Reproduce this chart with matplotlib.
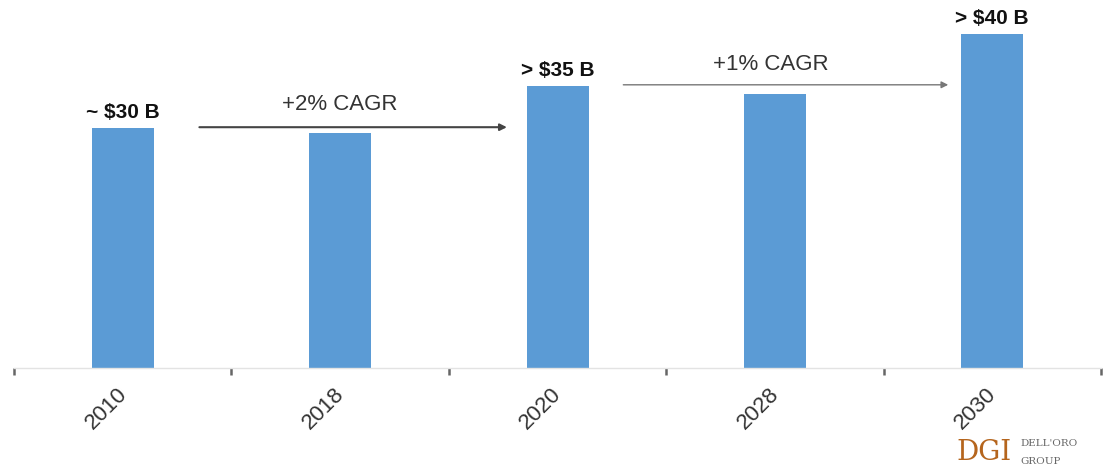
import matplotlib
matplotlib.use("Agg")
import matplotlib.pyplot as plt

plt.rcParams["font.family"] = ["Liberation Sans", "DejaVu Sans"]

years = ["2010", "2018", "2020", "2028", "2030"]
values = [30.0, 29.4, 35.3, 34.3, 41.8]
value_labels = ["~ $30 B", None, "> $35 B", None, "> $40 B"]
cagr_labels = ["+2% CAGR", "+1% CAGR"]

W, H = 1111, 469
fig = plt.figure(figsize=(W / 100, H / 100), dpi=100)
ax = fig.add_axes([14 / W, 101 / H, 1087 / W, 368 / H])
x = list(range(len(years)))
ax.bar(x, values, width=62 / 217.4, color="#5B9BD5", zorder=2)
ax.set_xlim(-0.5, len(years) - 0.5)
ax.set_ylim(0, 46)

for s in ["top", "right", "left"]:
    ax.spines[s].set_visible(False)
ax.spines["bottom"].set_color("#e3e3e3")
ax.spines["bottom"].set_linewidth(1.0)
ax.set_yticks([])
ax.set_xticks([i - 0.5 for i in range(len(years) + 1)], minor=False)
ax.set_xticklabels([])
ax.tick_params(axis="x", length=5, width=1.8, color="#666666", direction="out", pad=0)
for i, y in enumerate(years):
    ax.text(i - 0.03, -1.9, y, rotation=45, ha="right", va="top",
            rotation_mode="anchor", fontsize=16, color="#333333")

for i, (v, lab) in enumerate(zip(values, value_labels)):
    if lab:
        ax.text(i, v + 0.7, lab, ha="center", va="bottom", fontsize=15,
                fontweight="bold", color="#111111")

# CAGR arrows
ax.annotate("", xy=(1.78, 30.1), xytext=(0.34, 30.1),
            arrowprops=dict(arrowstyle="-|>", color="#444444", lw=1.5,
                            mutation_scale=10))
ax.text(1.0, 31.6, cagr_labels[0], ha="center", va="bottom", fontsize=16,
        color="#333333")
ax.annotate("", xy=(3.81, 35.4), xytext=(2.29, 35.4),
            arrowprops=dict(arrowstyle="-|>", color="#777777", lw=1.0,
                            mutation_scale=10))
ax.text(2.98, 36.6, cagr_labels[1], ha="center", va="bottom", fontsize=16,
        color="#333333")

# Logo
fig.text(956 / W, 1 - 452 / H, "DGI", fontsize=20, family="DejaVu Serif",
         color="#b5651d", ha="left", va="center")
fig.text(1020 / W, 1 - 443 / H, "DELL'ORO", fontsize=7.5, family="DejaVu Serif",
         color="#666666", ha="left", va="center")
fig.text(1020 / W, 1 - 461 / H, "GROUP", fontsize=7.5, family="DejaVu Serif",
         color="#666666", ha="left", va="center")

fig.savefig("out.png", dpi=100)
